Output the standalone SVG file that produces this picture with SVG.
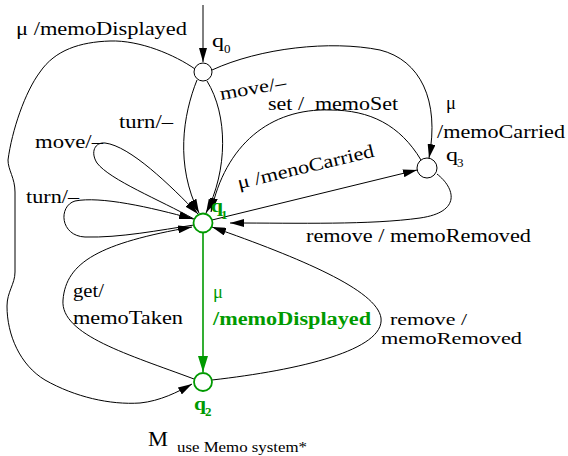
<svg xmlns="http://www.w3.org/2000/svg" width="568" height="456" viewBox="0 0 568 456">
<style>
.n{fill:#fff;stroke:#000;stroke-width:1}
.g{fill:#fff;stroke:#009a00;stroke-width:1.8}
.e{fill:none;stroke:#000;stroke-width:1}
.eg{fill:none;stroke:#009a00;stroke-width:1.6}
text{font-family:"Liberation Serif","Times New Roman",serif;font-size:18.5px;fill:#000}
.gt{fill:#009a00}
.b{font-weight:bold}
.sub{font-size:13px}
.sm{font-size:17px}
</style>
<defs>
<marker id="ah" markerWidth="14" markerHeight="8" refX="14" refY="4" orient="auto" markerUnits="userSpaceOnUse"><path d="M0,0 L14,4 L0,8 z" fill="#000"/></marker>
<marker id="ahg" markerWidth="16" markerHeight="10" refX="16" refY="5" orient="auto" markerUnits="userSpaceOnUse"><path d="M0,0 L16,5 L0,10 z" fill="#009a00"/></marker>
</defs>
<g id="connectors">
<path class="e" d="M203,5 L203,62" marker-end="url(#ah)"/>
<path class="e" d="M197,80 C183,115 175,165 199,213" marker-end="url(#ah)"/>
<path class="e" d="M207,81 C228,115 228,170 206,213" marker-end="url(#ah)"/>
<path class="e" d="M212,70 C260,48 330,40 380,50 C420,60 440,100 429,158" marker-end="url(#ah)"/>
<path class="e" d="M421,160 C400,125 370,110 330,110 C270,108 225,145 211,212" marker-end="url(#ah)"/>
<path class="e" d="M212,220 L417,170" marker-end="url(#ah)"/>
<path class="e" d="M437,174 C455,188 462,212 420,218 C370,225 300,223 230,223" marker-end="url(#ah)"/>
<path class="e" d="M194,219 C160,200 110,180 97,163 C90,152 95,142 105,143 C130,146 170,185 198,214" marker-end="url(#ah)"/>
<path class="e" d="M194,225 C160,230 120,238 85,237 C60,236 58,206 75,201 C100,196 150,207 193,219" marker-end="url(#ah)"/>
<path class="e" d="M194,379 C130,355 60,335 63,300 C66,262 100,243 192,227" marker-end="url(#ah)"/>
<path class="e" d="M212,380 C300,370 385,350 381,318 C377,290 300,258 212,227" marker-end="url(#ah)"/>
<path class="e" d="M195,69 C175,55 140,40 110,41 C80,42 55,50 40,72 C25,92 12,130 8,160 C8,170 15,178 15,192 L15,272 C15,284 7,292 7,306 C7,335 20,365 45,380 C75,397 110,405 140,403 C160,401 178,392 192,384" marker-end="url(#ah)"/>
<path class="eg" d="M203,233 L203,372" marker-end="url(#ahg)"/>
</g>
<g id="edge-labels">
<text x="16" y="35" textLength="171" lengthAdjust="spacingAndGlyphs">μ /memoDisplayed</text>
<text x="221" y="100" textLength="67" lengthAdjust="spacingAndGlyphs" transform="rotate(-10 221 100)">move/–</text>
<text x="268" y="110" textLength="130" lengthAdjust="spacingAndGlyphs" xml:space="preserve">set /  memoSet</text>
<text x="446" y="109">μ</text>
<text x="437" y="138" textLength="128" lengthAdjust="spacingAndGlyphs">/memoCarried</text>
<text x="239" y="189" textLength="140" lengthAdjust="spacingAndGlyphs" transform="rotate(-13.5 239 189)">μ /menoCarried</text>
<text x="119" y="128" textLength="54" lengthAdjust="spacingAndGlyphs">turn/–</text>
<text x="35" y="148" textLength="68" lengthAdjust="spacingAndGlyphs">move/–</text>
<text x="26" y="203" textLength="53" lengthAdjust="spacingAndGlyphs">turn/–</text>
<text x="306" y="242" textLength="225" lengthAdjust="spacingAndGlyphs">remove / memoRemoved</text>
<text x="73" y="297" textLength="31" lengthAdjust="spacingAndGlyphs">get/</text>
<text x="73" y="324" textLength="110" lengthAdjust="spacingAndGlyphs">memoTaken</text>
<text x="213" y="298" class="gt">μ</text>
<text x="213" y="325" class="gt b" textLength="158" lengthAdjust="spacingAndGlyphs">/memoDisplayed</text>
<text x="390" y="325" class="sm" textLength="77" lengthAdjust="spacingAndGlyphs">remove /</text>
<text x="381" y="344" class="sm" textLength="141" lengthAdjust="spacingAndGlyphs">memoRemoved</text>
</g>
<g id="q0">
<circle class="n" cx="203" cy="72" r="9"/>
<text x="212" y="47" textLength="12" lengthAdjust="spacingAndGlyphs">q</text><text x="224" y="53" class="sub">0</text>
</g>
<g id="q1">
<circle class="g" cx="203" cy="223" r="9.5"/>
<text x="211" y="212" class="gt b" textLength="12" lengthAdjust="spacingAndGlyphs">q</text><text x="221" y="219" class="gt b sub">1</text>
</g>
<g id="q2">
<circle class="g" cx="203" cy="382" r="9"/>
<text x="194" y="410" class="gt b" textLength="12" lengthAdjust="spacingAndGlyphs">q</text><text x="205" y="416" class="gt b sub">2</text>
</g>
<g id="q3">
<circle class="n" cx="427" cy="168" r="10"/>
<text x="446" y="161" textLength="12" lengthAdjust="spacingAndGlyphs">q</text><text x="457" y="167" class="sub">3</text>
</g>
<g id="title">
<text x="148" y="446" style="font-size:20px" textLength="20" lengthAdjust="spacingAndGlyphs">M</text>
<text x="177" y="452" style="font-size:14.5px" textLength="130" lengthAdjust="spacingAndGlyphs">use Memo system*</text>
</g>
</svg>
